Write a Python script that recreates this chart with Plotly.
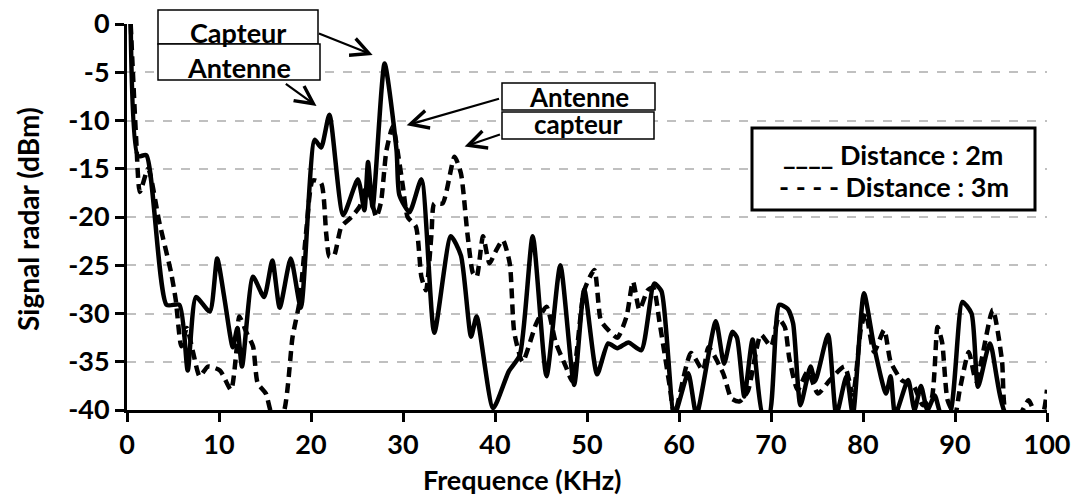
import plotly.graph_objects as go

# ---- data ----
freq_2m = [0.4, 1.2, 2.1, 4.3, 5.7, 6.6, 7.5, 9.0, 9.8, 10.6, 11.5, 12.0, 12.5, 13.7, 14.9,
           15.8, 16.6, 17.8, 18.9, 20.4, 21.1, 22.0, 23.5, 25.1, 25.8, 26.2, 26.7, 28.0, 29.3,
           29.6, 30.7, 32.0, 33.4, 35.2, 36.3, 37.4, 38.0, 39.8, 41.5, 42.7, 44.1, 45.6, 47.1,
           48.6, 49.7, 51.1, 52.3, 53.3, 54.5, 55.9, 57.3, 58.1, 59.5, 61.0, 61.9, 64.0, 64.9,
           65.8, 66.3, 67.1, 68.0, 69.1, 69.8, 70.9, 71.8, 72.4, 73.2, 74.3, 74.8, 76.2, 77.1,
           78.2, 78.9, 80.1, 81.2, 82.5, 83.0, 83.5, 84.9, 85.6, 86.3, 87.0, 87.8, 88.5, 89.4,
           90.8, 91.8, 92.5, 93.8, 95.6, 100.0]
sig_2m = [0.0, -13.7, -13.6, -29.1, -29.1, -35.9, -28.3, -29.8, -24.3, -28.5, -33.5, -31.5,
          -35.5, -26.2, -28.3, -24.5, -29.4, -24.3, -29.4, -12.0, -12.8, -9.4, -19.8, -16.1,
          -19.3, -14.3, -19.0, -4.1, -13.1, -17.7, -19.5, -16.1, -32.0, -22.0, -24.0, -32.4,
          -30.3, -39.8, -36.0, -34.3, -22.0, -36.5, -25.0, -37.4, -27.5, -36.3, -33.1, -33.6,
          -33.0, -33.8, -26.9, -27.7, -40.5, -36.2, -40.5, -30.8, -35.2, -31.9, -32.5, -38.6,
          -32.7, -40.5, -40.5, -29.1, -29.5, -31.0, -39.5, -35.5, -37.0, -32.2, -40.5, -36.5,
          -40.5, -27.9, -33.4, -38.3, -36.5, -40.5, -36.9, -40.0, -37.5, -40.0, -38.5, -40.5,
          -40.5, -28.8, -30.0, -37.6, -33.1, -40.5, -41.0]

freq_3m = [0.4, 1.0, 1.4, 2.3, 3.5, 4.8, 5.3, 5.9, 6.5, 7.2, 7.9, 8.8, 10.1, 11.3, 11.9, 12.2,
           13.0, 13.7, 14.2, 15.1, 15.8, 16.9, 18.0, 18.75, 19.5, 20.2, 21.1, 21.65, 22.0, 22.5,
           23.3, 24.4, 25.3, 26.0, 26.5, 27.1, 27.6, 28.2, 28.9, 29.4, 30.0, 30.5, 31.4, 32.0,
           32.5, 33.1, 33.4, 34.3, 35.6, 36.3, 37.0, 37.6, 38.0, 38.7, 39.4, 40.1, 40.85, 41.6,
           42.1, 43.0, 44.5, 45.6, 46.6, 47.7, 48.4, 49.7, 50.8, 51.5, 52.3, 53.3, 54.3, 55.0,
           55.7, 56.6, 57.2, 57.9, 59.0, 59.5, 61.3, 62.6, 63.2, 64.8, 65.7, 66.6, 67.5, 68.9,
           70.0, 70.8, 71.5, 72.0, 72.9, 74.0, 75.1, 76.4, 78.0, 78.9, 79.8, 80.3, 81.2, 82.3,
           83.0, 84.2, 85.5, 86.5, 87.4, 88.1, 88.6, 89.2, 90.0, 90.5, 91.5, 92.3, 94.1, 95.1,
           95.6, 97.0, 98.0, 98.8, 99.5, 100.0]
sig_3m = [0.0, -12.0, -17.4, -15.0, -20.5, -25.8, -28.6, -33.4, -31.5, -34.1, -36.5, -35.5,
          -35.9, -37.9, -33.8, -30.3, -32.0, -33.4, -37.2, -38.3, -40.5, -40.5, -32.4, -28.8,
          -21.3, -16.2, -16.5, -21.7, -24.1, -24.0, -21.0, -20.0, -18.9, -16.9, -18.0, -20.0,
          -18.5, -13.1, -10.6, -13.1, -16.9, -20.0, -21.0, -26.2, -27.6, -21.7, -18.6, -18.6,
          -13.75, -15.5, -21.7, -25.8, -26.2, -22.0, -24.8, -23.5, -22.4, -24.8, -32.0, -35.0,
          -31.0, -29.3, -33.0, -35.5, -37.0, -27.6, -25.5, -30.7, -31.7, -32.5, -30.3, -26.7,
          -29.6, -27.6, -27.3, -31.0, -37.6, -40.5, -34.1, -35.9, -33.5, -36.2, -38.8, -39.1,
          -38.0, -32.2, -33.4, -30.5, -31.4, -34.7, -37.9, -36.0, -38.3, -36.9, -35.5, -38.4,
          -31.4, -30.0, -34.0, -31.7, -35.0, -36.9, -37.5, -39.5, -39.0, -31.4, -33.0, -39.0,
          -40.5, -38.0, -34.0, -37.0, -29.6, -34.8, -40.5, -40.5, -39.0, -40.5, -40.5, -37.9]

x_ticks = [0, 10, 20, 30, 40, 50, 60, 70, 80, 90, 100]
y_ticks = [0, -5, -10, -15, -20, -25, -30, -35, -40]

FONT = "Lato"
FS = 27

fig = go.Figure()
fig.add_trace(go.Scatter(x=freq_3m, y=sig_3m, mode="lines", name="Distance : 3m",
                         line=dict(color="black", width=4.5, dash="10px,6px",
                                   shape="spline", smoothing=0.6)))
fig.add_trace(go.Scatter(x=freq_2m, y=sig_2m, mode="lines", name="Distance : 2m",
                         line=dict(color="black", width=4.5, shape="spline", smoothing=0.6)))

# screen pixel -> paper coordinates (plot area spans x 127..1047, y 24..410)
def px_to_paper(px, py):
    return (px - 127) / 920.0, (410 - py) / 386.0

# boxes
boxes = [
    (158, 318, 10, 44, 1.5),
    (158, 320, 44, 80, 1.5),
    (502, 655, 83, 110, 1.5),
    (502, 654, 112, 139, 1.5),
    (752, 1035, 128, 210, 3),
]
for bx0, bx1, by0, by1, w in boxes:
    x0, y1 = px_to_paper(bx0, by0)
    x1, y0 = px_to_paper(bx1, by1)
    fig.add_shape(type="rect", xref="paper", yref="paper", x0=x0, x1=x1, y0=y0, y1=y1,
                  line=dict(color="black", width=w), fillcolor="white", layer="above")

texts = [
    ("Capteur", 238, 33, FS),
    ("Antenne", 239, 68, FS),
    ("Antenne", 579, 97, FS - 1),
    ("capteur", 578, 124, FS - 1),
    ("____ Distance : 2m", 893, 154, FS),
    ("- - - - Distance : 3m", 894, 187, FS),
]
for t, px, py, fs in texts:
    xp, yp = px_to_paper(px, py)
    fig.add_annotation(text=t, x=xp, y=yp, xref="paper", yref="paper", showarrow=False,
                       xanchor="center", yanchor="middle",
                       font=dict(family=FONT, size=fs, color="black", weight="bold"))

arrows = [
    # (tail x, tail y, tip x, tip y) in data units
    (20.7, -0.93, 26.7, -3.2),
    (17.1, -6.1, 20.6, -8.5),
    (40.6, -7.7, 30.4, -10.5),
    (40.7, -11.4, 36.7, -12.7),
]
for tx, ty, hx, hy in arrows:
    fig.add_annotation(x=hx, y=hy, ax=tx, ay=ty, xref="x", yref="y", axref="x", ayref="y",
                       text="", showarrow=True, arrowhead=5, arrowsize=1.6,
                       arrowwidth=2.2, arrowcolor="black")

# axis titles
xt, yt = px_to_paper(522, 479)
fig.add_annotation(text="Frequence (KHz)", x=xt, y=yt, xref="paper", yref="paper",
                   showarrow=False, xanchor="center", yanchor="middle",
                   font=dict(family=FONT, size=FS, color="black", weight="bold"))
xt, yt = px_to_paper(28, 219)
fig.add_annotation(text="Signal radar (dBm)", x=xt, y=yt, xref="paper", yref="paper",
                   showarrow=False, xanchor="center", yanchor="middle", textangle=-90,
                   font=dict(family=FONT, size=FS + 1, color="black", weight="bold"))

fig.update_layout(
    width=1077, height=497,
    margin=dict(l=127, r=30, t=24, b=87),
    plot_bgcolor="white", paper_bgcolor="white",
    showlegend=False,
    font=dict(family=FONT, color="black", size=FS, weight="bold"),
)
fig.update_xaxes(range=[0, 100], tickvals=x_ticks, ticktext=[str(v) for v in x_ticks],
                 automargin=False,
                 showgrid=False, zeroline=False, showline=True, linecolor="black", linewidth=3,
                 ticks="outside", ticklen=9, tickwidth=2.5, tickcolor="black",
                 tickfont=dict(family=FONT, size=FS, color="black", weight="bold"))
fig.update_yaxes(range=[-40, 0], tickvals=y_ticks, ticktext=[str(v) for v in y_ticks],
                 automargin=False,
                 showgrid=True, gridcolor="#c0c0c0", griddash="dash", gridwidth=1.5,
                 zeroline=False, showline=True, linecolor="black", linewidth=3,
                 ticks="outside", ticklen=9, tickwidth=2.5, tickcolor="black",
                 tickfont=dict(family=FONT, size=FS, color="black", weight="bold"))

# remove the default 8px page margin so the figure fills the window exactly
fig.write_html("out.html", config={"displayModeBar": False},
               post_script="document.body.style.margin='0';document.body.style.overflow='hidden';")
